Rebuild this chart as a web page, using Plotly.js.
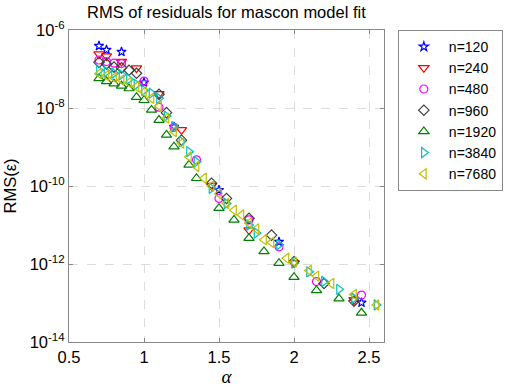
<!DOCTYPE html>
<html>
<head>
<meta charset="utf-8">
<script src="https://cdn.plot.ly/plotly-3.0.1.min.js"></script>
<style>html,body{margin:0;padding:0;background:#fff;}#chart{width:511px;height:387px;}</style>
</head>
<body>
<div id="chart"></div>
<script>
// Series labels
const seriesNames = ['n=120','n=240','n=480','n=960','n=1920','n=3840','n=7680'];

// n=120
const alpha120 = [0.7,0.75,0.85,1.0,1.2,1.5,1.9,2.45];
const rms120 = [3.9e-7,3.1e-7,2.75e-7,4.5e-8,3.3e-9,7.9e-11,3.7e-12,1.02e-13];

// n=240
const alpha240 = [0.7,0.75,0.85,0.95,1.1,1.25,1.45,1.7,2.0,2.4];
const rms240 = [2.4e-7,2.15e-7,1.55e-7,1.05e-7,2.3e-8,2.75e-9,1.02e-10,7.4e-12,1.07e-12,1.2e-13];

// n=480
const alpha480 = [0.7,0.75,0.8,0.85,1.0,1.1,1.2,1.35,1.5,1.7,1.9,2.15,2.45];
const rms480 = [1.7e-7,1.55e-7,1.41e-7,1.38e-7,4.9e-8,1.05e-8,3.2e-9,4.7e-10,4.8e-11,1.35e-11,2.75e-12,3.55e-13,1.6e-13];

// n=960
const alpha960 = [0.7,0.75,0.8,0.85,0.9,0.95,1.1,1.15,1.25,1.45,1.55,1.7,1.85,2.0,2.2,2.4];
const rms960 = [1.48e-7,1.35e-7,1.12e-7,1.07e-7,9.3e-8,7.8e-8,2.24e-8,7.6e-9,1.5e-9,1.17e-10,4.8e-11,1.48e-11,5.5e-12,1.15e-12,3.16e-13,1.12e-13];

// n=1920
const alpha1920 = [0.7,0.75,0.8,0.85,0.9,0.95,1.0,1.05,1.1,1.15,1.2,1.3,1.35,1.5,1.6,1.7,1.8,1.9,2.0,2.15,2.3,2.45];
const rms1920 = [5.75e-8,4.8e-8,4.2e-8,3.7e-8,3.16e-8,1.9e-8,1.58e-8,8.9e-9,4.9e-9,2.04e-9,1.02e-9,3.5e-10,1.58e-10,2.7e-11,1.35e-11,4.6e-12,2.1e-12,1.05e-12,4.6e-13,2.1e-13,1.29e-13,5.6e-14];

// n=3840
const alpha3840 = [0.7,0.75,0.8,0.85,0.9,0.95,1.0,1.05,1.1,1.15,1.2,1.25,1.3,1.35,1.45,1.55,1.7,1.75,1.9,2.0,2.1,2.2,2.3,2.4,2.55];
const rms3840 = [9.3e-8,8.5e-8,7.8e-8,7.1e-8,5.5e-8,4.0e-8,2.8e-8,2.4e-8,1.78e-8,6.2e-9,3.3e-9,1.38e-9,7.6e-10,4.2e-10,8.7e-11,3.55e-11,1.0e-11,6.2e-12,3.1e-12,1.05e-12,6.3e-13,3.55e-13,2.24e-13,1.32e-13,8.9e-14];

// n=7680
const alpha7680 = [0.7,0.75,0.8,0.85,0.9,0.95,1.0,1.05,1.1,1.15,1.2,1.25,1.3,1.35,1.4,1.45,1.5,1.55,1.6,1.65,1.7,1.75,1.8,1.85,1.95,2.0,2.1,2.15,2.25,2.4,2.55];
const rms7680 = [7.6e-8,6.8e-8,6.0e-8,5.2e-8,4.5e-8,3.55e-8,2.6e-8,1.78e-8,1.12e-8,5.5e-9,2.5e-9,1.26e-9,5.6e-10,3.16e-10,1.58e-10,1.0e-10,6.3e-11,3.55e-11,2.4e-11,1.8e-11,1.12e-11,7.9e-12,4.2e-12,3.55e-12,1.41e-12,1.12e-12,6.8e-13,4.9e-13,3.16e-13,1.66e-13,8.9e-14];

// Axis ticks
const xTicks = [0.5,1,1.5,2,2.5];
const yTicks = [1e-14,1e-12,1e-10,1e-8,1e-6];
const yTickText = ['10<sup>-14</sup>','10<sup>-12</sup>','10<sup>-10</sup>','10<sup>-8</sup>','10<sup>-6</sup>'];

const xs = [alpha120,alpha240,alpha480,alpha960,alpha1920,alpha3840,alpha7680];
const ys = [rms120,rms240,rms480,rms960,rms1920,rms3840,rms7680];
const symbols = ['star-open','triangle-down-open','circle-open','diamond-open','triangle-up-open','triangle-right-open','triangle-left-open'];
const colors = ['#0000ff','#ff0000','#ff00ff','#404040','#008000','#00bfbf','#bfbf00'];
const sizes = [7,9,8,8,9,9,9];

const traces = seriesNames.map((nm,i)=>({
  type:'scatter', mode:'markers', name:nm,
  x: xs[i], y: ys[i],
  marker:{symbol:symbols[i], color:colors[i], size:sizes[i], line:{width:1.2, color:colors[i]}}
}));

const fontFam = 'Liberation Sans, Arial, sans-serif';
const layout = {
  width:511, height:387,
  margin:{l:69, r:127, t:30, b:45, pad:0, autoexpand:false},
  paper_bgcolor:'#fff', plot_bgcolor:'#fff',
  font:{family:fontFam, size:16, color:'#000'},
  showlegend:true,
  title:{text:'RMS of residuals for mascon model fit', font:{size:16.5, family:fontFam}, x:0.443, xanchor:'center', y:0.969, yanchor:'middle'},
  xaxis:{
    range:[0.5,2.6], tickvals:xTicks, ticktext:xTicks.map(String),
    showline:true, mirror:'ticks', linecolor:'#888', linewidth:1,
    ticks:'inside', ticklen:4, tickcolor:'#888',
    showgrid:true, gridcolor:'#dcdcdc', griddash:'dash', gridwidth:1,
    zeroline:false, tickfont:{size:16.5},
    title:{text:'<i>α</i>', font:{size:19, family:'Liberation Serif, Times New Roman, serif'}, standoff:6}
  },
  yaxis:{
    type:'log', range:[-14,-6], tickvals:yTicks, ticktext:yTickText,
    showline:true, mirror:'ticks', linecolor:'#888', linewidth:1,
    ticks:'inside', ticklen:4, tickcolor:'#888',
    showgrid:true, gridcolor:'#dcdcdc', griddash:'dash', gridwidth:1,
    zeroline:false, tickfont:{size:16.5},
    title:{text:'RMS(ε)', font:{size:16.5}, standoff:8}
  },
  legend:{
    x:1.044, xanchor:'left', y:1, yanchor:'top',
    bordercolor:'#888', borderwidth:1, bgcolor:'#fff',
    font:{size:14}, tracegroupgap:0, itemwidth:40
  }
};
Plotly.newPlot('chart', traces, layout, {staticPlot:true, displayModeBar:false});
</script>
</body>
</html>
